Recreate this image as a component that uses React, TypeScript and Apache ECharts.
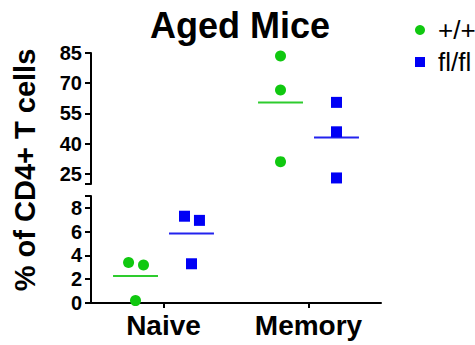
import React, { useEffect, useRef } from "react";
import * as echarts from "echarts";

const categories = ["Naive", "Memory"];
const seriesNames = ["+/+", "fl/fl"];
const wtNaive = [3.4, 3.2, 0.2];
const koNaive = [7.3, 6.95, 3.3];
const wtMemory = [83.5, 66.6, 31.1];
const koMemory = [60.5, 45.9, 23.0];
const naiveJitter = [-0.048, 0.055, 0];
const memoryJitter = [0, 0, 0];
const topTicks = [25, 40, 55, 70, 85];
const bottomTicks = [0, 2, 4, 6, 8];

const FONT = "'Liberation Sans', Arial, Helvetica, sans-serif";
const GREEN = "#10c810";
const BLUE = "#0000f5";
const GREEN_LINE = "#2ecc2e";
const BLUE_LINE = "#2323ee";
const GROUP_OFFSET = 0.193;
const HALF_MEAN = 0.155;

function points(vals: number[], cat: number, off: number, jitter: number[]) {
  return vals.map((v, i) => [cat + 0.5 + off + jitter[i], v]);
}
function mean(vals: number[]) {
  return vals.reduce((a, b) => a + b, 0) / vals.length;
}

function meanSeries(cx: number, vals: number[], color: string, gi: number) {
  return {
    type: "custom",
    coordinateSystem: "cartesian2d",
    xAxisIndex: gi,
    yAxisIndex: gi,
    silent: true,
    z: 1,
    data: [[cx, mean(vals)]],
    renderItem: (_p: any, api: any) => {
      const c = api.value(0);
      const m = api.value(1);
      const p1 = api.coord([c - HALF_MEAN, m]);
      const p2 = api.coord([c + HALF_MEAN, m]);
      return {
        type: "line",
        shape: { x1: p1[0], y1: p1[1], x2: p2[0], y2: p2[1] },
        style: { stroke: color, lineWidth: 2 },
      };
    },
  };
}

export default function App() {
  const ref = useRef<HTMLDivElement>(null);
  useEffect(() => {
    if (!ref.current) return;
    const chart = echarts.init(ref.current, undefined, { renderer: "svg" });
    const axisLine = { show: true, lineStyle: { color: "#000", width: 2 } };
    const tickLabel = { color: "#000", fontSize: 20, fontWeight: "bold", fontFamily: FONT, margin: 9 };
    const scatter = (name: string, gi: number, symbol: string, color: string, data: number[][]) => ({
      name,
      type: "scatter",
      xAxisIndex: gi,
      yAxisIndex: gi,
      symbol,
      symbolSize: 11,
      itemStyle: { color, opacity: 1 },
      z: 3,
      data,
    });
    chart.setOption({
      animation: false,
      backgroundColor: "#fff",
      title: {
        text: "Aged Mice",
        left: 235,
        textAlign: "center",
        top: 2,
        textStyle: { fontSize: 36, fontWeight: "bold", color: "#000", fontFamily: FONT },
      },
      legend: {
        left: 410,
        top: 12,
        orient: "vertical",
        itemWidth: 10,
        itemHeight: 10,
        itemGap: 6,
        data: [
          { name: seriesNames[0], icon: "circle" },
          { name: seriesNames[1], icon: "rect" },
        ],
        textStyle: { fontSize: 26, color: "#000", fontFamily: FONT, lineHeight: 26, padding: [0, 0, 0, 8] },
      },
      graphic: [
        {
          type: "text",
          x: 25,
          y: 170,
          rotation: Math.PI / 2,
          style: {
            text: "% of CD4+ T cells",
            fontSize: 29,
            fontWeight: "bold",
            fontFamily: FONT,
            fill: "#000",
            align: "center",
            verticalAlign: "middle",
          },
        },
      ],
      grid: [
        { left: 91, top: 53, height: 131, right: 94 },
        { left: 91, top: 196, height: 107, right: 94 },
      ],
      xAxis: [
        { gridIndex: 0, type: "value", min: 0, max: 2, show: false, position: "top" },
        { gridIndex: 1, type: "value", min: 0, max: 2, show: false, position: "top" },
        {
          gridIndex: 1,
          type: "category",
          position: "bottom",
          data: categories,
          axisLine,
          axisTick: { show: true, alignWithLabel: true, length: 5, lineStyle: { color: "#000", width: 2 } },
          axisLabel: { color: "#000", fontSize: 28, fontWeight: "bold", fontFamily: FONT, margin: 8 },
        },
      ],
      yAxis: [
        {
          gridIndex: 0,
          type: "value",
          min: 20,
          max: 85,
          axisLine,
          splitLine: { show: false },
          axisTick: { show: true, length: 6, customValues: [20, ...topTicks], lineStyle: { color: "#000", width: 2 } },
          axisLabel: { ...tickLabel, customValues: topTicks },
        },
        {
          gridIndex: 1,
          type: "value",
          min: 0,
          max: 9,
          axisLine,
          splitLine: { show: false },
          axisTick: { show: true, length: 6, customValues: [...bottomTicks, 9], lineStyle: { color: "#000", width: 2 } },
          axisLabel: { ...tickLabel, customValues: bottomTicks },
        },
      ],
      series: [
        scatter(seriesNames[0], 1, "circle", GREEN, points(wtNaive, 0, -GROUP_OFFSET, naiveJitter)),
        scatter(seriesNames[1], 1, "rect", BLUE, points(koNaive, 0, GROUP_OFFSET, naiveJitter)),
        scatter(seriesNames[0], 0, "circle", GREEN, points(wtMemory, 1, -GROUP_OFFSET, memoryJitter)),
        scatter(seriesNames[1], 0, "rect", BLUE, points(koMemory, 1, GROUP_OFFSET, memoryJitter)),
        meanSeries(0.5 - GROUP_OFFSET, wtNaive, GREEN_LINE, 1),
        meanSeries(0.5 + GROUP_OFFSET, koNaive, BLUE_LINE, 1),
        meanSeries(1.5 - GROUP_OFFSET, wtMemory, GREEN_LINE, 0),
        meanSeries(1.5 + GROUP_OFFSET, koMemory, BLUE_LINE, 0),
      ],
    });
    return () => chart.dispose();
  }, []);
  return <div ref={ref} style={{ width: 475, height: 345, position: "absolute", left: 0, top: 0 }} />;
}
